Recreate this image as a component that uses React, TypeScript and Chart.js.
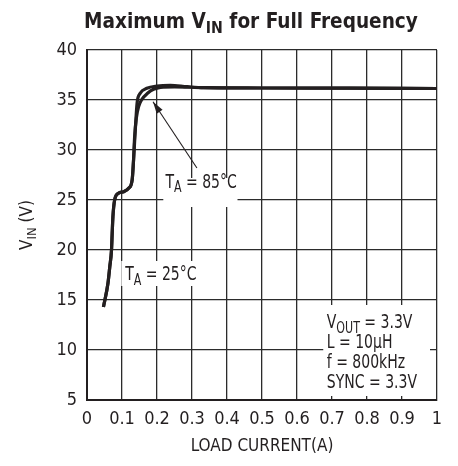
import { useEffect, useRef } from 'react';
import { Chart, registerables } from 'chart.js';

Chart.register(...registerables);

const FONT = '"Liberation Sans Narrow", "DejaVu Sans Condensed", "Liberation Sans", sans-serif';

const xTickValues = [0, 0.1, 0.2, 0.3, 0.4, 0.5, 0.6, 0.7, 0.8, 0.9, 1];
const xTickLabels = ['0', '0.1', '0.2', '0.3', '0.4', '0.5', '0.6', '0.7', '0.8', '0.9', '1'];
const yTickValues = [5, 10, 15, 20, 25, 30, 35, 40];

const curve25X = [0.047, 0.06, 0.065, 0.07, 0.072, 0.074, 0.079, 0.09, 0.105, 0.119, 0.129, 0.133, 0.138, 0.143, 0.152, 0.171, 0.2, 0.238, 0.286, 0.333, 0.5, 0.75, 1.0];
const curve25Y = [14.3, 16.7, 18.3, 20.0, 21.7, 23.3, 25.0, 25.67, 25.83, 26.17, 27.0, 29.0, 32.0, 34.67, 35.67, 36.17, 36.4, 36.47, 36.33, 36.23, 36.2, 36.18, 36.15];

const curve85X = [0.047, 0.06, 0.065, 0.07, 0.072, 0.074, 0.079, 0.09, 0.105, 0.119, 0.129, 0.133, 0.136, 0.141, 0.148, 0.157, 0.173, 0.19, 0.21, 0.25, 0.333, 0.5, 0.75, 1.0];
const curve85Y = [14.3, 16.7, 18.3, 20.0, 21.7, 23.3, 25.0, 25.67, 25.83, 26.17, 27.0, 29.0, 31.3, 33.2, 34.4, 35.07, 35.67, 36.07, 36.27, 36.32, 36.23, 36.2, 36.18, 36.15];

const titleParts = [{ t: 'Maximum V' }, { t: 'IN', sub: true }, { t: ' for Full Frequency' }];
const xAxisTitle = 'LOAD CURRENT(A)';
const yAxisTitleParts = [{ t: 'V' }, { t: 'IN', sub: true }, { t: ' (V)' }];
const label25Parts = [{ t: 'T' }, { t: 'A', sub: true }, { t: ' = 25°C' }];
const label85Parts = [{ t: 'T' }, { t: 'A', sub: true }, { t: ' = 85°C' }];
const specLines = [
  [{ t: 'V' }, { t: 'OUT', sub: true }, { t: ' = 3.3V' }],
  [{ t: 'L = 10µH' }],
  [{ t: 'f = 800kHz' }],
  [{ t: 'SYNC = 3.3V' }],
];

type Part = { t: string; sub?: boolean };

function richWidth(ctx: CanvasRenderingContext2D, parts: Part[], size: number, weight: string) {
  let w = 0;
  for (const p of parts) {
    ctx.font = `${weight} ${p.sub ? Math.round(size * 0.78) : size}px ${FONT}`;
    w += ctx.measureText(p.t).width;
  }
  return w;
}

function drawRich(ctx: CanvasRenderingContext2D, parts: Part[], x: number, y: number, size: number, weight = 'normal', sx = 1) {
  ctx.save();
  ctx.translate(x, y);
  ctx.scale(sx, 1);
  ctx.textBaseline = 'alphabetic';
  ctx.textAlign = 'left';
  let cx = 0;
  for (const p of parts) {
    const s = p.sub ? Math.round(size * 0.78) : size;
    ctx.font = `${weight} ${s}px ${FONT}`;
    ctx.fillText(p.t, cx, p.sub ? size * 0.25 : 0);
    cx += ctx.measureText(p.t).width;
  }
  ctx.restore();
}

const annotPlugin = {
  id: 'annot',
  beforeDatasetsDraw(chart: any) {
    const ctx: CanvasRenderingContext2D = chart.ctx;
    const xs = chart.scales.x;
    const ys = chart.scales.y;
    const px = (v: number) => xs.getPixelForValue(v);
    const py = (v: number) => ys.getPixelForValue(v);
    ctx.save();
    ctx.fillStyle = '#ffffff';
    // 85 label box
    ctx.fillRect(px(0.218), py(27.2), px(0.43) - px(0.218), py(24.3) - py(27.2));
    // 25 label box
    ctx.fillRect(px(0.098), py(18.9), px(0.322) - px(0.098), py(16.4) - py(18.9));
    // spec box
    ctx.fillRect(px(0.675), py(14.5), px(0.98) - px(0.675), py(5.4) - py(14.5));
    ctx.fillStyle = '#231f20';
    const SX = 0.82;
    drawRich(ctx, label85Parts, px(0.224), py(26.23), 19, 'normal', SX);
    drawRich(ctx, label25Parts, px(0.109), py(17.0), 19, 'normal', SX);
    specLines.forEach((ln, i) => drawRich(ctx, ln, px(0.685), py(12.2 - i * 2), 19, 'normal', SX));
    // arrow
    const x1 = px(0.314), y1 = py(28.2), x2 = px(0.1886), y2 = py(34.83);
    ctx.strokeStyle = '#231f20';
    ctx.lineWidth = 1.1;
    ctx.beginPath();
    ctx.moveTo(x1, y1);
    ctx.lineTo(x2, y2);
    ctx.stroke();
    const ang = Math.atan2(y2 - y1, x2 - x1);
    const L = 12, W = 3.5;
    ctx.beginPath();
    ctx.moveTo(x2, y2);
    ctx.lineTo(x2 - L * Math.cos(ang) + W * Math.sin(ang), y2 - L * Math.sin(ang) - W * Math.cos(ang));
    ctx.lineTo(x2 - L * Math.cos(ang) - W * Math.sin(ang), y2 - L * Math.sin(ang) + W * Math.cos(ang));
    ctx.closePath();
    ctx.fillStyle = '#231f20';
    ctx.fill();
    ctx.restore();
  },
  afterDraw(chart: any) {
    const ctx: CanvasRenderingContext2D = chart.ctx;
    const area = chart.chartArea;
    ctx.save();
    ctx.fillStyle = '#231f20';
    // title
    const tw = richWidth(ctx, titleParts, 21, 'bold') * 0.98;
    drawRich(ctx, titleParts, 251 - tw / 2, 28, 21, 'bold', 0.98);
    // x axis title
    ctx.font = `normal 17px ${FONT}`;
    ctx.textAlign = 'center';
    ctx.textBaseline = 'alphabetic';
    ctx.fillText(xAxisTitle, (area.left + area.right) / 2, 451);
    // y axis title
    ctx.translate(32, (area.top + area.bottom) / 2);
    ctx.rotate(-Math.PI / 2);
    const yw = richWidth(ctx, yAxisTitleParts, 17, 'normal');
    drawRich(ctx, yAxisTitleParts, -yw / 2, 0, 17);
    ctx.restore();
  },
};

export default function App() {
  const ref = useRef<HTMLCanvasElement>(null);
  useEffect(() => {
    if (!ref.current) return;
    const chart = new Chart(ref.current, {
      type: 'line',
      data: {
        datasets: [
          {
            label: 'TA = 25°C',
            data: curve25X.map((x, i) => ({ x, y: curve25Y[i] })),
            borderColor: '#231f20',
            borderWidth: 3.2,
            pointRadius: 0,
            fill: false,
            cubicInterpolationMode: 'monotone',
          },
          {
            label: 'TA = 85°C',
            data: curve85X.map((x, i) => ({ x, y: curve85Y[i] })),
            borderColor: '#231f20',
            borderWidth: 3.2,
            pointRadius: 0,
            fill: false,
            cubicInterpolationMode: 'monotone',
          },
        ],
      },
      options: {
        responsive: false,
        animation: false,
        layout: { padding: { left: 0, top: 50, right: 21, bottom: 0 } },
        plugins: { legend: { display: false }, tooltip: { enabled: false }, title: { display: false } },
        scales: {
          x: {
            type: 'linear',
            min: 0,
            max: 1,
            afterBuildTicks: (s: any) => { s.ticks = xTickValues.map((v) => ({ value: v })); },
            afterFit: (s: any) => { s.height = 66; },
            ticks: {
              autoSkip: false,
              maxRotation: 0,
              padding: 9,
              color: '#231f20',
              font: { family: FONT, size: 18 },
              callback: (v: any) => xTickLabels[xTickValues.findIndex((t) => Math.abs(t - v) < 1e-6)] ?? '',
            },
            grid: { color: '#2b2b2b', lineWidth: 1.3, drawTicks: false },
            border: { display: true, color: '#231f20', width: 2 },
          },
          y: {
            type: 'linear',
            min: 5,
            max: 40,
            afterBuildTicks: (s: any) => { s.ticks = yTickValues.map((v) => ({ value: v })); },
            afterFit: (s: any) => { s.width = 87; },
            ticks: {
              padding: 10,
              color: '#231f20',
              font: { family: FONT, size: 18 },
            },
            grid: { color: '#2b2b2b', lineWidth: 1.3, drawTicks: false },
            border: { display: true, color: '#231f20', width: 2 },
          },
        },
      },
      plugins: [annotPlugin],
    } as any);
    return () => chart.destroy();
  }, []);
  return (
    <div style={{ position: 'fixed', left: 0, top: 0, width: 458, height: 466, background: '#fff' }}>
      <canvas ref={ref} width={458} height={466} />
    </div>
  );
}
